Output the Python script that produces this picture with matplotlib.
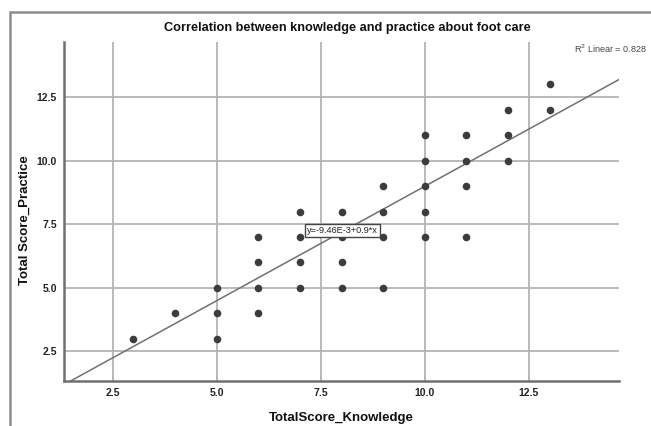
import numpy as np
import matplotlib.pyplot as plt
from matplotlib.patches import Rectangle

# Knowledge score (x) and practice score (y) per respondent point
knowledge = [3, 4, 5, 5, 5, 6, 6, 6, 6, 7, 7, 7, 7, 8, 8, 8, 8,
             9, 9, 9, 9, 10, 10, 10, 10, 10, 11, 11, 11, 11, 12, 12, 12, 13, 13]
practice = [3, 4, 5, 4, 3, 7, 6, 5, 4, 8, 7, 6, 5, 8, 7, 6, 5,
            9, 8, 7, 5, 11, 10, 9, 8, 7, 11, 10, 9, 7, 12, 11, 10, 13, 12]
intercept = -9.46e-3
slope = 0.9
r2 = 0.828
ticks = [2.5, 5.0, 7.5, 10.0, 12.5]

plt.rcParams['font.family'] = ['Liberation Sans', 'DejaVu Sans']

fig = plt.figure(figsize=(6.51, 4.26), dpi=100)
ax = fig.add_axes([64 / 651, 1 - 381 / 426, 555 / 651, 339 / 426])

# outer frame of the chart area
fig.patches.append(Rectangle((10 / 651, -0.05), 1.2, 1 - 12 / 426 + 0.05,
                             transform=fig.transFigure, fill=False,
                             edgecolor='#8c8c8c', linewidth=1.8))

lo, hi = 1.333, 14.667
ax.set_xlim(lo, hi)
ax.set_ylim(lo, hi)
ax.set_xticks(ticks)
ax.set_yticks(ticks)
ax.set_xticklabels([f'{t:.1f}' for t in ticks])
ax.set_yticklabels([f'{t:.1f}' for t in ticks])
ax.tick_params(length=0, labelsize=7.5, colors='#222222', pad=5)
for lab in ax.get_xticklabels() + ax.get_yticklabels():
    lab.set_fontweight('bold')

ax.grid(True, color='#b4b4b4', linewidth=1.3)
ax.set_axisbelow(True)
for s in ['top', 'right']:
    ax.spines[s].set_visible(False)
for s in ['left', 'bottom']:
    ax.spines[s].set_color('#707070')
    ax.spines[s].set_linewidth(1.8)

ax.scatter(knowledge, practice, s=30, color='#3c3c3c', zorder=3, linewidths=0)

xs = np.array([lo, hi])
ax.plot(xs, intercept + slope * xs, color='#707070', linewidth=1.1, zorder=2)

ax.text(8.03, 7.25, 'y=-9.46E-3+0.9*x', fontsize=6.6, ha='center', va='center',
        color='#222222', zorder=4,
        bbox=dict(boxstyle='square,pad=0.25', facecolor='white', edgecolor='#444444', linewidth=1))

ax.set_title('Correlation between knowledge and practice about foot care',
             fontsize=9.2, fontweight='bold', pad=8, color='#111111', x=0.511)
ax.set_xlabel('TotalScore_Knowledge', fontsize=9.5, fontweight='bold', labelpad=10, color='#111111')
ax.set_ylabel('Total Score_Practice', fontsize=9.5, fontweight='bold', color='#111111')
ax.yaxis.set_label_coords(-0.06, 0.475)

fig.text(647 / 651, 1 - 49 / 426, f'R$^2$ Linear = {r2}', fontsize=6.5, ha='right', va='center',
         color='#444444')

fig.savefig('out.png', dpi=100)
